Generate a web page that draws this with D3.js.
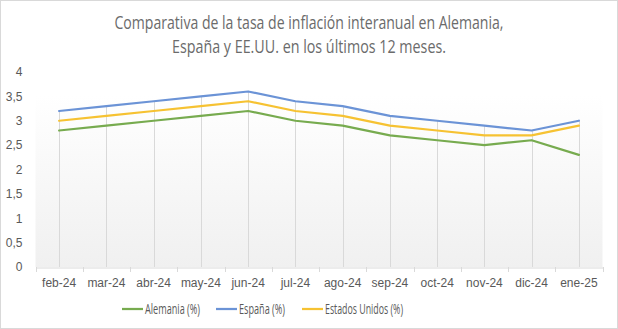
<!DOCTYPE html>
<html>
<head>
<meta charset="utf-8">
<script src="https://cdn.jsdelivr.net/npm/d3@7"></script>
<style>
  html, body { margin: 0; padding: 0; background: #ffffff; }
  svg { display: block; font-family: "Open Sans", "Noto Sans", sans-serif; }
  .narrow { font-family: "Liberation Sans Narrow", "Open Sans", sans-serif; }
</style>
</head>
<body>
<div id="chart"></div>
<script>
const months = ['feb-24', 'mar-24', 'abr-24', 'may-24', 'jun-24', 'jul-24', 'ago-24', 'sep-24', 'oct-24', 'nov-24', 'dic-24', 'ene-25'];
const alemania = [2.8, 2.9, 3.0, 3.1, 3.2, 3.0, 2.9, 2.7, 2.6, 2.5, 2.6, 2.3];
const espana = [3.2, 3.3, 3.4, 3.5, 3.6, 3.4, 3.3, 3.1, 3.0, 2.9, 2.8, 3.0];
const eeuu = [3.0, 3.1, 3.2, 3.3, 3.4, 3.2, 3.1, 2.9, 2.8, 2.7, 2.7, 2.9];
const yTicks = [0, 0.5, 1, 1.5, 2, 2.5, 3, 3.5, 4];
const seriesNames = ['Alemania (%)', 'España (%)', 'Estados Unidos (%)'];
const titleLines = ['Comparativa de la tasa de inflación interanual en Alemania,', 'España y EE.UU. en los últimos 12 meses.'];

const series = [
  { name: seriesNames[0], values: alemania, color: '#77AB4F' },
  { name: seriesNames[1], values: espana, color: '#6B93D6' },
  { name: seriesNames[2], values: eeuu, color: '#F6C232' }
];

const W = 618, H = 329;
const plot = { left: 35.5, right: 602.5, top: 72, bottom: 267 };
const textColor = '#595959';

const svg = d3.select('#chart').append('svg')
  .attr('width', W)
  .attr('height', H);

// fondo y borde del gráfico
svg.append('rect')
  .attr('x', 0.5).attr('y', 0.5)
  .attr('width', W - 1).attr('height', H - 1)
  .attr('fill', '#ffffff')
  .attr('stroke', '#d9d9d9');

const defs = svg.append('defs');
const grad = defs.append('linearGradient')
  .attr('id', 'plotFill')
  .attr('x1', 0).attr('y1', 0).attr('x2', 0).attr('y2', 1);
grad.append('stop').attr('offset', '0%').attr('stop-color', '#ffffff');
grad.append('stop').attr('offset', '12%').attr('stop-color', '#ffffff');
grad.append('stop').attr('offset', '100%').attr('stop-color', '#f0f0f0');

// título
svg.append('g')
  .selectAll('text')
  .data(titleLines)
  .enter()
  .append('text')
  .attr('x', W / 2)
  .attr('y', (d, i) => 29 + i * 24)
  .attr('text-anchor', 'middle')
  .attr('fill', '#6b6b6b')
  .attr('font-size', 18)
  .attr('textLength', (d, i) => i === 0 ? 389 : 274)
  .attr('lengthAdjust', 'spacingAndGlyphs')
  .text((d) => d);

const xScale = d3.scaleBand()
  .domain(months)
  .range([plot.left, plot.right]);

const yScale = d3.scaleLinear()
  .domain([0, 4])
  .range([plot.bottom, plot.top]);

const cx = (m) => xScale(m) + xScale.bandwidth() / 2;

// área del trazado
svg.append('rect')
  .attr('x', plot.left)
  .attr('y', plot.top)
  .attr('width', plot.right - plot.left)
  .attr('height', plot.bottom - plot.top)
  .attr('fill', 'url(#plotFill)');

// líneas de unión: desde el valor más alto de cada mes hasta el eje
svg.append('g')
  .selectAll('line')
  .data(months)
  .enter()
  .append('line')
  .attr('x1', (d) => Math.round(cx(d)) + 0.5)
  .attr('x2', (d) => Math.round(cx(d)) + 0.5)
  .attr('y1', (d, i) => yScale(d3.max(series, (s) => s.values[i])))
  .attr('y2', plot.bottom)
  .attr('stroke', '#d9d9d9')
  .attr('stroke-width', 1);

// eje X
const xAxis = svg.append('g')
  .attr('transform', `translate(0,${plot.bottom + 0.5})`)
  .call(d3.axisBottom(xScale).tickSize(0).tickPadding(11));
xAxis.select('.domain').attr('stroke', '#d9d9d9');
xAxis.selectAll('text')
  .attr('fill', textColor)
  .attr('font-size', 12);

// marcas del eje entre categorías
svg.append('g')
  .selectAll('line')
  .data(d3.range(months.length + 1))
  .enter()
  .append('line')
  .attr('x1', (i) => Math.round(plot.left + i * xScale.step()) + 0.5)
  .attr('x2', (i) => Math.round(plot.left + i * xScale.step()) + 0.5)
  .attr('y1', plot.bottom)
  .attr('y2', plot.bottom + 5)
  .attr('stroke', '#d9d9d9');

// eje Y (solo etiquetas)
const fmt = (v) => String(v).replace('.', ',');
const yAxis = svg.append('g')
  .attr('transform', `translate(${plot.left},0)`)
  .call(d3.axisLeft(yScale).tickValues(yTicks).tickFormat(fmt).tickSize(0).tickPadding(13));
yAxis.select('.domain').remove();
yAxis.selectAll('text')
  .attr('fill', textColor)
  .attr('font-size', 12);

// series
const line = d3.line()
  .x((d, i) => cx(months[i]))
  .y((d) => yScale(d));

svg.append('g')
  .selectAll('path')
  .data(series)
  .enter()
  .append('path')
  .attr('d', (d) => line(d.values))
  .attr('fill', 'none')
  .attr('stroke', (d) => d.color)
  .attr('stroke-width', 2.25)
  .attr('stroke-linejoin', 'round')
  .attr('stroke-linecap', 'round');

// leyenda
const legendX = [122, 216, 302];
const legendLen = [55, 46, 78];
const legend = svg.append('g')
  .selectAll('g')
  .data(series)
  .enter()
  .append('g')
  .attr('transform', (d, i) => `translate(${legendX[i]},309)`);
legend.append('line')
  .attr('x1', 0).attr('x2', 21)
  .attr('y1', 0).attr('y2', 0)
  .attr('stroke', (d) => d.color)
  .attr('stroke-width', 2.25);
legend.append('text')
  .attr('class', 'narrow')
  .attr('x', 23)
  .attr('y', 5)
  .attr('fill', textColor)
  .attr('font-size', 14)
  .attr('textLength', (d, i) => legendLen[i])
  .attr('lengthAdjust', 'spacingAndGlyphs')
  .text((d) => d.name);
</script>
</body>
</html>
